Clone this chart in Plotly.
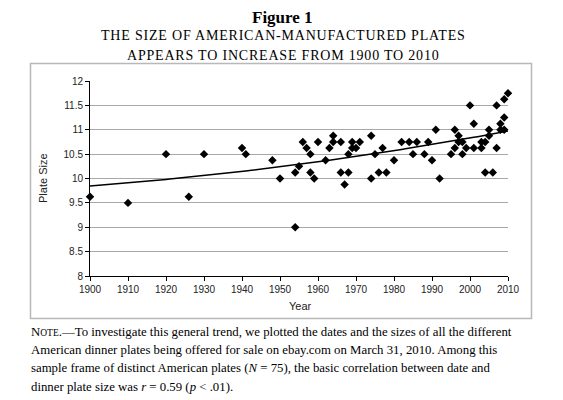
import numpy as np
import plotly.graph_objects as go

years = [1900, 1910, 1920, 1926, 1930, 1940, 1941, 1948, 1950, 1954, 1954, 1955,
         1956, 1957, 1958, 1958, 1959, 1960, 1962, 1963, 1964, 1964, 1966, 1966,
         1967, 1968, 1968, 1969, 1969, 1970, 1971, 1974, 1974, 1975, 1976, 1977,
         1978, 1980, 1982, 1984, 1985, 1986, 1988, 1989, 1990, 1991, 1992, 1995,
         1996, 1996, 1997, 1997, 1998, 1998, 1999, 2000, 2001, 2001, 2003, 2003,
         2004, 2004, 2005, 2005, 2006, 2007, 2007, 2008, 2008, 2009, 2009, 2009,
         2010]
sizes = [9.625, 9.5, 10.5, 9.625, 10.5, 10.625, 10.5, 10.375, 10.0, 10.125, 9.0, 10.25,
         10.75, 10.625, 10.5, 10.125, 10.0, 10.75, 10.375, 10.625, 10.75, 10.875, 10.75, 10.125,
         9.875, 10.5, 10.125, 10.75, 10.625, 10.625, 10.75, 10.875, 10.0, 10.5, 10.125, 10.625,
         10.125, 10.375, 10.75, 10.75, 10.5, 10.75, 10.5, 10.75, 10.375, 11.0, 10.0, 10.5,
         11.0, 10.625, 10.875, 10.75, 10.75, 10.5, 10.625, 11.5, 11.125, 10.625, 10.75, 10.625,
         10.75, 10.125, 11.0, 10.875, 10.125, 11.5, 10.625, 11.125, 11.0, 11.625, 11.25, 11.0,
         11.75]

x_ticks = [1900, 1910, 1920, 1930, 1940, 1950, 1960, 1970, 1980, 1990, 2000, 2010]
y_ticks = [8, 8.5, 9, 9.5, 10, 10.5, 11, 11.5, 12]

title_text = "<b>Figure 1</b>"
subtitle_lines = ["THE SIZE OF AMERICAN-MANUFACTURED PLATES",
                  "APPEARS TO INCREASE FROM 1900 TO 2010"]
note_lines = [
    "N<span style='font-size:9.5px'>OTE</span>.\u2014To investigate this general trend, we plotted the dates and the sizes of all the different",
    "American dinner plates being offered for sale on ebay.com on March 31, 2010. Among this",
    "sample frame of distinct American plates (<i>N</i> = 75), the basic correlation between date and",
    "dinner plate size was <i>r</i> = 0.59 (<i>p</i> &lt; .01).",
]

# trend line fitted from the data
coef = np.polyfit(np.array(years) - 1900, np.array(sizes), 2)
trend_x = np.arange(1900, 2011)
trend_y = np.polyval(coef, trend_x - 1900)

W, H = 563, 400
OFF = 8  # page body margin
L, R, T, B = 90 - OFF, 508 - OFF, 81 - OFF, 276 - OFF


def px(x):
    return (x - OFF - L) / (R - L)


def py(y):
    return (B - (y - OFF)) / (B - T)


fig = go.Figure()
fig.add_trace(go.Scatter(x=trend_x, y=trend_y, mode="lines",
                         line=dict(color="black", width=1.5),
                         hoverinfo="skip", showlegend=False))
fig.add_trace(go.Scatter(x=years, y=sizes, mode="markers",
                         marker=dict(symbol="diamond", size=6.5, color="black"),
                         cliponaxis=False, showlegend=False))

axis_font = dict(family="Liberation Sans, Arial", size=10, color="#222")
fig.update_xaxes(range=[1900, 2010], tickvals=x_ticks, ticks="outside", ticklen=4,
                 tickcolor="black", showline=True, linecolor="black", linewidth=1,
                 showgrid=False, zeroline=False, tickfont=axis_font)
fig.update_yaxes(range=[8, 12], tickvals=y_ticks, ticks="outside", ticklen=4,
                 tickcolor="black", showline=True, linecolor="black", linewidth=1,
                 showgrid=True, gridcolor="#a8a8a8", gridwidth=1, zeroline=False,
                 tickfont=axis_font)

annotations = []
annotations.append(dict(text=title_text, x=px(282), y=py(17), xref="paper", yref="paper",
                        showarrow=False, xanchor="center", yanchor="middle",
                        font=dict(family="Liberation Serif", size=17, color="black")))
for i, s in enumerate(subtitle_lines):
    annotations.append(dict(text="<span style='letter-spacing:0.8px'>" + s + "</span>",
                            x=px(283), y=py(36 + 19 * i), xref="paper", yref="paper",
                            showarrow=False, xanchor="center", yanchor="middle",
                            font=dict(family="Liberation Serif", size=14, color="black")))
annotations.append(dict(text="Year", x=px(300), y=py(306), xref="paper", yref="paper",
                        showarrow=False, xanchor="center", yanchor="middle",
                        font=dict(family="Liberation Sans, Arial", size=11, color="#222")))
annotations.append(dict(text="Plate Size", x=px(43), y=py(178), xref="paper", yref="paper",
                        showarrow=False, xanchor="center", yanchor="middle", textangle=-90,
                        font=dict(family="Liberation Sans, Arial", size=11, color="#222")))
for i, s in enumerate(note_lines):
    annotations.append(dict(text=s, x=px(29), y=py(332 + 18.2 * i), xref="paper", yref="paper",
                            showarrow=False, xanchor="left", yanchor="middle",
                            font=dict(family="Liberation Serif", size=12.8, color="black")))

shapes = [dict(type="rect", xref="paper", yref="paper",
               x0=px(30.5), x1=px(531.5), y0=py(318.5), y1=py(63.5),
               line=dict(color="#b8b8b8", width=1.5), fillcolor="rgba(0,0,0,0)", layer="below")]

fig.update_layout(width=W, height=H, margin=dict(l=L, r=W - R, t=T, b=H - B),
                  paper_bgcolor="white", plot_bgcolor="white",
                  annotations=annotations, shapes=shapes, showlegend=False)

fig.write_html("out.html")
